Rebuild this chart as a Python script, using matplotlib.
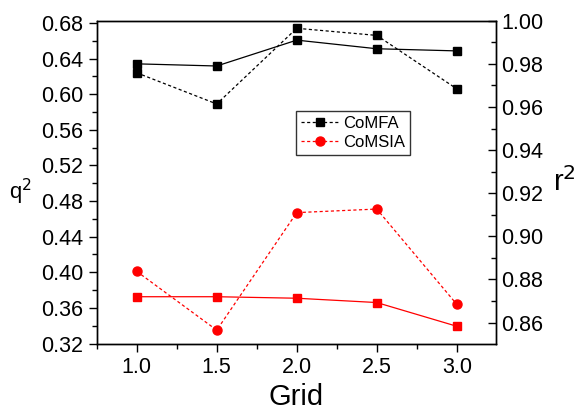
import matplotlib.pyplot as plt
from matplotlib.ticker import MultipleLocator, FormatStrFormatter

plt.rcParams['font.family'] = ['Liberation Sans', 'DejaVu Sans']

grid = [1.0, 1.5, 2.0, 2.5, 3.0]
# q2 (left axis), dashed lines
comfa_q2 = [0.624, 0.589, 0.674, 0.666, 0.606]
comsia_q2 = [0.401, 0.335, 0.467, 0.471, 0.364]
# r2 (right axis), solid lines
comfa_r2 = [0.980, 0.979, 0.991, 0.987, 0.986]
comsia_r2 = [0.872, 0.872, 0.8713, 0.8693, 0.8583]

fig = plt.figure(figsize=(5.77, 4.11), dpi=100)
ax = fig.add_axes([0.1676, 0.1642, 0.692, 0.7854])
ax2 = ax.twinx()

l1, = ax.plot(grid, comfa_q2, color='black', ls=(0, (2.5, 2)), lw=0.9,
              marker='s', ms=6, label='CoMFA')
l2, = ax.plot(grid, comsia_q2, color='red', ls=(0, (2.5, 2)), lw=0.9,
              marker='o', ms=6.5, label='CoMSIA')
ax2.plot(grid, comfa_r2, color='black', lw=0.9, marker='s', ms=6)
ax2.plot(grid, comsia_r2, color='red', lw=0.9, marker='s', ms=6)

ax.set_xlim(0.75, 3.245)
ax.set_ylim(0.32, 0.6825)
ax2.set_ylim(0.8503, 1.0)

ax.xaxis.set_major_locator(MultipleLocator(0.5))
ax.xaxis.set_minor_locator(MultipleLocator(0.25))
ax.yaxis.set_major_locator(MultipleLocator(0.04))
ax.yaxis.set_minor_locator(MultipleLocator(0.02))
ax2.yaxis.set_major_locator(MultipleLocator(0.02))
ax2.yaxis.set_minor_locator(MultipleLocator(0.01))
ax.xaxis.set_major_formatter(FormatStrFormatter('%.1f'))
ax.yaxis.set_major_formatter(FormatStrFormatter('%.2f'))
ax2.yaxis.set_major_formatter(FormatStrFormatter('%.2f'))

ax.tick_params(axis='both', which='major', direction='out', length=6,
               width=1, labelsize=15.5)
ax.tick_params(axis='both', which='minor', direction='out', length=3.5, width=1)
ax.tick_params(axis='y', right=False)
ax2.tick_params(axis='y', which='major', direction='in', length=6, width=1,
                labelsize=15.5, pad=4)
ax2.tick_params(axis='y', which='minor', direction='in', length=3.5, width=1)

for a in (ax, ax2):
    for s in a.spines.values():
        s.set_linewidth(1)

ax.set_xlabel('Grid', fontsize=21, labelpad=4)
ax.set_ylabel('q$^2$', fontsize=16, rotation=0, ha='center', va='center')
ax.yaxis.set_label_coords(-0.19, 0.47)
ax2.set_ylabel('r$^2$', fontsize=21, rotation=0, ha='left', va='center')
ax2.yaxis.set_label_coords(1.143, 0.5)

leg = ax2.legend(handles=[l1, l2], loc='upper left',
                 bbox_to_anchor=(0.5, 0.72), fontsize=12, frameon=True,
                 fancybox=False, edgecolor='black', handlelength=2.2,
                 borderpad=0.3, labelspacing=0.25, handletextpad=0.3,
                 borderaxespad=0)
leg.get_frame().set_linewidth(1)

fig.savefig('out.png', dpi=100)
